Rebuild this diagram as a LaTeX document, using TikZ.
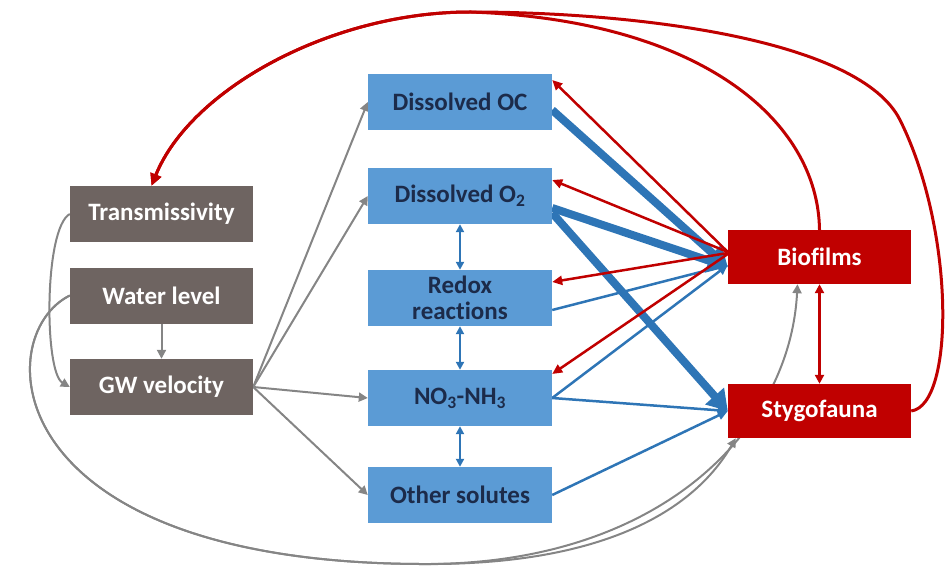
\documentclass[tikz,border=0pt]{standalone}
\usepackage{fontspec}
\setmainfont{Carlito}[Ligatures=NoCommon]
\usetikzlibrary{arrows.meta,backgrounds}

\definecolor{boxgray}{HTML}{6E6461}
\definecolor{boxblue}{HTML}{5B9BD5}
\definecolor{boxred}{HTML}{C00000}
\definecolor{linegray}{HTML}{858585}
\definecolor{lineblue}{HTML}{2E75B6}
\definecolor{linered}{HTML}{C00000}
\definecolor{textnavy}{HTML}{1C2B4A}

\begin{document}
\begin{tikzpicture}[x=1pt,y=-1pt,
  box/.style={minimum width=183pt,minimum height=56pt,inner sep=0pt,align=center,
    font=\fontsize{25}{26}\selectfont\bfseries},
  physbox/.style={box,fill=boxgray,text=white},
  chembox/.style={box,fill=boxblue,text=textnavy,minimum width=184pt},
  biobox/.style={box,fill=boxred,text=white,minimum height=54pt},
  grayarr/.style={draw=linegray,line width=2pt,-{Triangle[length=9pt,width=9pt]}},
  redarr/.style={draw=linered,line width=2.5pt,-{Triangle[length=10pt,width=9pt]}},
  redbig/.style={draw=linered,line width=3pt,-{Triangle[length=12pt,width=11pt]}},
  bluethin/.style={draw=lineblue,line width=2.5pt,-{Triangle[length=10pt,width=9pt]}},
  bluethick/.style={draw=lineblue,line width=8pt,-{Triangle[length=20pt,width=24pt]}},
  bluetwo/.style={draw=lineblue,line width=2.5pt,{Triangle[length=8pt,width=8pt]}-{Triangle[length=8pt,width=8pt]}},
  redtwo/.style={draw=linered,line width=2.5pt,{Triangle[length=9pt,width=9pt]}-{Triangle[length=9pt,width=9pt]}}
]
\useasboundingbox (0,0) rectangle (952,567);

% physical drivers
\node[physbox] (trans) at (161.5,214) {Transmissivity};
\node[physbox] (water) at (161.5,295.5) {Water level};
\node[physbox] (gwv) at (161.5,387) {GW velocity};

% water chemistry
\node[chembox] (doc) at (460,102) {Dissolved OC};
\node[chembox] (do2) at (460,196) {Dissolved O\textsubscript{2}};
\node[chembox] (redox) at (460,298) {Redox\\reactions};
\node[chembox] (no3) at (460,398) {NO\textsubscript{3}-NH\textsubscript{3}};
\node[chembox] (other) at (460,495) {Other solutes};

% biota
\node[biobox] (bio) at (819.5,257) {Biofilms};
\node[biobox] (stygo) at (819.5,411) {Stygofauna};

\begin{pgfonlayer}{background}
% gray links
\draw[grayarr] (trans.west) .. controls (44,228) and (44,372) .. (gwv.west);
\draw[grayarr] (water.south) -- (gwv.north);
\draw[grayarr] (gwv.east) -- (doc.west);
\draw[grayarr] (gwv.east) -- (do2.west);
\draw[grayarr] (gwv.east) -- (no3.west);
\draw[grayarr] (gwv.east) -- (other.west);
\draw[grayarr] (water.west) .. controls (-10,335) and (-5,562) .. (420,564)
  .. controls (620,566) and (700,500) .. ([xshift=8pt]stygo.south west);
\draw[grayarr] (water.west) .. controls (-10,335) and (-5,562) .. (420,564)
  .. controls (660,566) and (790,430) .. ([xshift=-22pt]bio.south);

% blue links
\draw[bluetwo] (do2.south) -- (redox.north);
\draw[bluetwo] (redox.south) -- (no3.north);
\draw[bluetwo] (no3.south) -- (other.north);
\draw[bluethick] ([yshift=-8pt]doc.east) -- ([yshift=-10pt]bio.west);
\draw[bluethick] ([yshift=-12pt]do2.east) -- ([yshift=-10pt]bio.west);
\draw[bluethick] ([yshift=-17pt]do2.east) -- (stygo.west);
\draw[bluethin] ([yshift=-12pt]redox.east) -- ([yshift=-8pt]bio.west);
\draw[bluethin] (no3.east) -- ([yshift=-8pt]bio.west);
\draw[bluethin] (no3.east) -- (stygo.west);
\draw[bluethin] (other.east) -- (stygo.west);

% red links
\draw[redarr] ([yshift=5pt]bio.west) -- ([yshift=22pt]doc.east);
\draw[redarr] ([yshift=5pt]bio.west) -- ([yshift=16pt]do2.east);
\draw[redarr] ([yshift=4pt]bio.west) -- ([yshift=16pt]redox.east);
\draw[redarr] ([yshift=3pt]bio.west) -- ([yshift=24pt]no3.east);
\draw[redtwo] (bio.south) -- (stygo.north);
\draw[redbig] (bio.north) .. controls (818,120) and (700,20) .. (470,12)
  .. controls (330,12) and (190,90) .. ([xshift=-10pt]trans.north);
\draw[redbig] (stygo.east) .. controls (955,405) and (955,230) .. (900,120)
  .. controls (860,40) and (640,12) .. (470,12)
  .. controls (330,12) and (190,90) .. ([xshift=-10pt]trans.north);
\end{pgfonlayer}

\end{tikzpicture}
\end{document}
